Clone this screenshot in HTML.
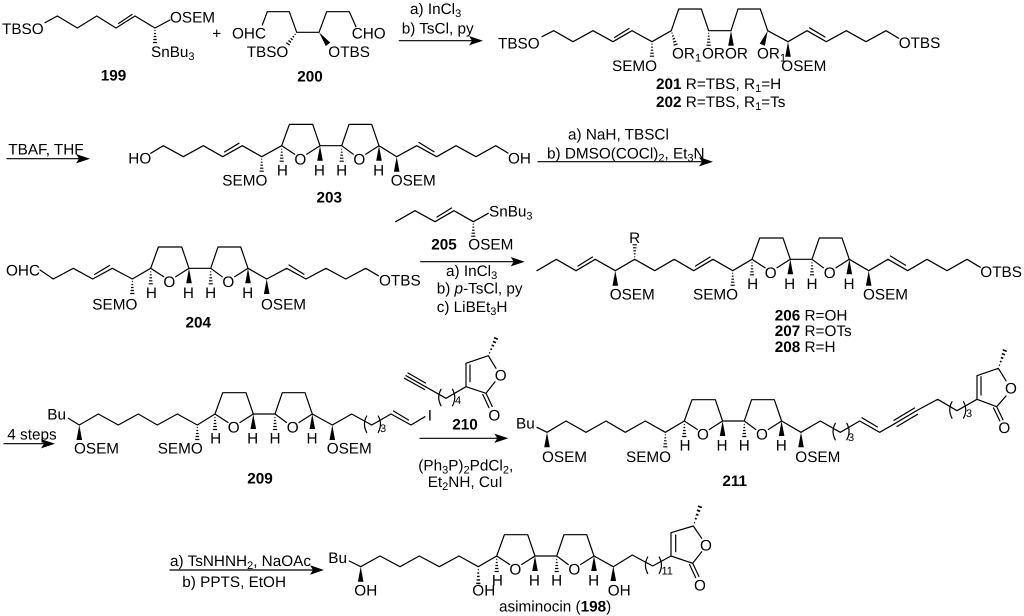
<!DOCTYPE html>
<html><head><meta charset="utf-8"><title>Asiminocin synthesis</title>
<style>
html,body{margin:0;padding:0;background:#fff;width:1024px;height:616px;overflow:hidden}
svg{display:block;filter:blur(.35px)}
text{font-family:"Liberation Sans",Arial,sans-serif;font-size:15.3px;fill:#000;text-rendering:geometricPrecision}
.b{font-weight:bold}
.s{font-size:11px}
.m{text-anchor:middle}
.l{fill:none;stroke:#000;stroke-width:1.2;stroke-linejoin:round;stroke-linecap:round}
</style></head><body>
<svg width="1024" height="616" viewBox="0 0 1024 616" xmlns="http://www.w3.org/2000/svg">
<defs>
<g id="h" class="l" style="stroke-linecap:butt">
<path d="M-.5 2.5H.5M-.9 5.5H.9M-1.3 8.5H1.3M-1.7 11.5H1.7M-2.1 14.5H2.1"/>
</g>
<polygon id="w" points="0,0 -2.8,15 2.8,15" fill="#000"/>
<path id="pl" class="l" d="M-5,-9Q-9.5,-1 -5,7.5"/>
<path id="pr" class="l" d="M6.5,-9Q11,-1 6.5,7.5"/>
<polygon id="ah" points="0,0 -14,-4.7 -11,0 -14,4.7" fill="#000"/>
<g id="core">
<path class="l" d="M13,8.5L0,0L7.7,-21.3H31L38.3,0L25,8.5M38.3,0H60L67.3,-21.3H90L97.3,0L84,8.5M60,0L71.5,8.5"/>
<use href="#h" x="0" y="1"/><use href="#h" x="60" y="1"/>
<use href="#w" x="38.3" y="0"/><use href="#w" x="97.3" y="0"/>
</g>
</defs>
<rect width="1024" height="616" fill="#fff"/>

<!-- 199 -->
<text x="2" y="34">TBSO</text>
<path class="l" d="M45,22.7L57.3,16L77.3,28L96.7,16L116,28L135,16L155,28L170,20M118.5,23.5L132,14.5"/>
<use href="#h" transform="translate(155,28)"/>
<text x="170" y="22.5">OSEM</text>
<text x="151" y="57">SnBu<tspan class="s" dy="3">3</tspan></text>
<text class="b m" x="113.5" y="80.5">199</text>
<text class="m" x="216.7" y="38.5">+</text>

<!-- 200 -->
<text x="232" y="38.7">OHC</text>
<path class="l" d="M262.3,25L267.3,11.7H289.3L296.7,32.3H319L326.7,11.7H349.3L356,26.7"/>
<use href="#h" transform="translate(296.7,32.3) rotate(37)"/>
<use href="#w" transform="translate(319,32.3) rotate(-37)"/>
<text x="246.7" y="57">TBSO</text>
<text x="328.3" y="57">OTBS</text>
<text x="351.7" y="38.7">CHO</text>
<text class="b m" x="310" y="81.5">200</text>

<!-- arrow 1 -->
<path class="l" d="M399.3,40.7H475"/><use href="#ah" x="483" y="40.7"/>
<text x="410" y="14">a) InCl<tspan class="s" dy="3">3</tspan></text>
<text x="401.7" y="33.5">b) TsCl, py</text>

<!-- 201 -->
<text x="498" y="48.5">TBSO</text>
<path class="l" d="M542,36.7L553.7,30.7L573,41.7L593,30.7L613,41.7L632,30.7L652,41.7L671.3,30.7L678.7,9H701.3L708.7,30.7H731L738,9H760.3L767.7,30.7L788,41.7L807,30.7L826.3,41.7L846.3,30.7L866,41.7L886,30.7L898.7,38.3M614.5,37.5L629,28.5M809.5,27.8L825,37"/>
<use href="#h" x="652" y="41.7"/>
<use href="#h" transform="translate(671.3,30.7) rotate(-17)"/>
<use href="#h" x="708.7" y="30.7"/>
<use href="#w" x="731" y="30.7"/>
<use href="#w" transform="translate(767.7,30.7) rotate(21)"/>
<use href="#w" x="788" y="41.7"/>
<text x="612" y="71">SEMO</text>
<text x="672" y="58.7">OR<tspan class="s" dy="3">1</tspan></text>
<text x="702" y="58.7">OROR</text>
<text x="757" y="58.7">OR<tspan class="s" dy="3">1</tspan></text>
<text x="781.3" y="71">OSEM</text>
<text x="898.7" y="48">OTBS</text>
<text x="656" y="89"><tspan class="b">201</tspan> R=TBS, R<tspan class="s" dy="3">1</tspan><tspan dy="-3">=H</tspan></text>
<text x="656" y="107"><tspan class="b">202</tspan> R=TBS, R<tspan class="s" dy="3">1</tspan><tspan dy="-3">=Ts</tspan></text>

<!-- TBAF -->
<text x="8.3" y="154.5">TBAF, THF</text>
<path class="l" d="M7,158.7H82"/><use href="#ah" x="90" y="158.7"/>

<!-- 203 -->
<text x="128.3" y="163.7">HO</text>
<path class="l" d="M150.7,153.3L163.3,145.7L183.3,156.7L203.3,145.7L222.7,156.7L242.3,145.7L261.7,156.7L281.7,145.7M224.5,152L239,143.2M379,145.7L396.7,156.7L416.7,145.7L436.7,156.7L456,145.7L476,156.7L495.7,145.7L508,153M419,142.5L434,151.7"/>
<use href="#h" x="261.7" y="156.7"/>
<use href="#w" x="396.7" y="156.7"/>
<use href="#core" x="281.7" y="145.7"/>
<g transform="translate(281.7,145.7)"><text class="m" x="18.7" y="18.7">O</text><text class="m" x="77.7" y="18.7">O</text><text class="m" x=".7" y="29.6">H</text><text class="m" x="37.7" y="29.6">H</text><text class="m" x="60" y="29.6">H</text><text class="m" x="97" y="29.6">H</text></g>
<text x="222.3" y="185.4">SEMO</text>
<text x="390.7" y="185.4">OSEM</text>
<text x="508" y="163.7">OH</text>
<text class="b m" x="329.3" y="202.7">203</text>

<!-- arrow 3 -->
<path class="l" d="M538,161.7H705"/><use href="#ah" x="713" y="161.7"/>
<text x="568" y="139.7">a) NaH, TBSCl</text>
<text x="547" y="158.7">b) DMSO(COCl)<tspan class="s" dy="3">2</tspan><tspan dy="-3">, Et</tspan><tspan class="s" dy="3">3</tspan><tspan dy="-3">N</tspan></text>

<!-- 204 -->
<text x="6" y="275.4">OHC</text>
<path class="l" d="M40,270L53.3,279L73.3,268.3L92.7,279L112.3,268.3L132.3,279L150.7,268.3M94.5,274.5L109.5,265.5M248,268.3L266.7,279L286.7,268.3L306,279L326,268.3L345.7,279L365.7,268.3L378.3,275.7M289,265L304,274.2"/>
<use href="#h" x="132.3" y="279"/>
<use href="#w" x="266.7" y="279"/>
<use href="#core" x="150.7" y="268.3"/>
<g transform="translate(150.7,268.3)"><text class="m" x="18.7" y="18.7">O</text><text class="m" x="77.7" y="18.7">O</text><text class="m" x=".7" y="29.6">H</text><text class="m" x="37.7" y="29.6">H</text><text class="m" x="60" y="29.6">H</text><text class="m" x="97" y="29.6">H</text></g>
<text x="92.3" y="309.4">SEMO</text>
<text x="261" y="309.4">OSEM</text>
<text x="379" y="285.4">OTBS</text>
<text class="b m" x="198.3" y="327.7">204</text>

<!-- 205 -->
<path class="l" d="M395.7,221.7L415,210.7L435,221.7L454,210.7L473.3,221.7L488.3,213.3M437,217L451.5,208"/>
<use href="#h" x="473.3" y="221.7"/>
<text x="489" y="216.4">SnBu<tspan class="s" dy="3">3</tspan></text>
<text x="468.3" y="249.7">OSEM</text>
<text class="b m" x="444" y="249.7">205</text>
<path class="l" d="M420.7,261.7H517"/><use href="#ah" x="524.7" y="261.7"/>
<text x="446" y="276">a) InCl<tspan class="s" dy="3">3</tspan></text>
<text x="436.7" y="293.7">b) <tspan font-style="italic">p</tspan>-TsCl, py</text>
<text x="436.7" y="312">c) LiBEt<tspan class="s" dy="3">3</tspan><tspan dy="-3">H</tspan></text>

<!-- 206 -->
<path class="l" d="M537,270.7L556.3,259.3L576,270.7L595.3,259.3L615.3,270.7L634.7,259.3L654.7,270.7L674.3,259.3L693.7,270.7L713,259.3L732.7,270.7L752,259.3M578,266L592.5,257M695.5,266L710,257M849.3,259.3L868.7,270.7L888,259.3L907.7,270.7L927,259.3L947,270.7L967,259.3L980.3,267.3M890.5,256L905.5,265.2"/>
<use href="#w" x="615.3" y="270.7"/>
<use href="#h" transform="translate(634.7,259.3) rotate(180)"/>
<use href="#h" x="732.7" y="270.7"/>
<use href="#w" x="868.7" y="270.7"/>
<use href="#core" x="752" y="259.3"/>
<g transform="translate(752,259.3)"><text class="m" x="18.7" y="18.7">O</text><text class="m" x="77.7" y="18.7">O</text><text class="m" x=".7" y="29.6">H</text><text class="m" x="37.7" y="29.6">H</text><text class="m" x="60" y="29.6">H</text><text class="m" x="97" y="29.6">H</text></g>
<text class="m" x="634.7" y="243">R</text>
<text x="609.7" y="299.7">OSEM</text>
<text x="693" y="299.7">SEMO</text>
<text x="863" y="299.7">OSEM</text>
<text x="980.3" y="277">OTBS</text>
<text x="774.7" y="320.4"><tspan class="b">206</tspan> R=OH</text>
<text x="774.7" y="336"><tspan class="b">207</tspan> R=OTs</text>
<text x="774.7" y="352"><tspan class="b">208</tspan> R=H</text>

<!-- 4 steps -->
<text x="7.3" y="439.4">4 steps</text>
<path class="l" d="M4,443.7H47"/><use href="#ah" x="55" y="443.7"/>

<!-- 209 -->
<text x="47.3" y="419.4">Bu</text>
<path class="l" d="M68.3,418.3L79.3,425L98.3,414L118.3,425L138.3,414L157.3,425L177.3,414L197.3,425L215,414M312.3,414L332.3,425L351.7,414L371.7,425L391,414L411,425L425,416.7M393.5,411L408.5,420"/>
<use href="#w" x="79.3" y="425"/>
<use href="#h" x="197.3" y="425"/>
<use href="#w" x="332.3" y="425"/>
<use href="#pl" x="371.7" y="425"/><use href="#pr" x="371.7" y="425"/>
<text class="s" x="380" y="432">3</text>
<use href="#core" x="215" y="414"/>
<g transform="translate(215,414)"><text class="m" x="18.7" y="18.7">O</text><text class="m" x="77.7" y="18.7">O</text><text class="m" x=".7" y="29.6">H</text><text class="m" x="37.7" y="29.6">H</text><text class="m" x="60" y="29.6">H</text><text class="m" x="97" y="29.6">H</text></g>
<text x="74" y="453.7">OSEM</text>
<text x="157.7" y="453.7">SEMO</text>
<text x="326.7" y="453.7">OSEM</text>
<text x="427.7" y="420.4">I</text>
<text class="b m" x="260" y="483.7">209</text>

<!-- 210 -->
<path class="l" d="M406,375.7L428.3,388.3L446,398.3L466,386.7V363.3L488.3,355.7L496,368.3M495,381.7L486,393.3L466,386.7M408,373L425.5,383M404.5,378.3L424.5,389.5M470,381.7V365M486,393.3L492.2,406.5M482.8,394.5L489,407.7"/>
<use href="#h" transform="translate(488.3,355.7) rotate(-156) scale(1,1.3)"/>
<use href="#pl" x="446" y="398.3"/><use href="#pr" x="446" y="398.3"/>
<text class="s" x="455" y="404">4</text>
<text class="m" x="500.7" y="380.4">O</text>
<text class="m" x="494.3" y="420.4">O</text>
<text class="b m" x="465" y="429.7">210</text>
<path class="l" d="M420,438.3H500"/><use href="#ah" x="508.3" y="438.3"/>
<text x="418.3" y="470.4">(Ph<tspan class="s" dy="3">3</tspan><tspan dy="-3">P)</tspan><tspan class="s" dy="3">2</tspan><tspan dy="-3">PdCl</tspan><tspan class="s" dy="3">2</tspan><tspan dy="-3">,</tspan></text>
<text x="427.7" y="487">Et<tspan class="s" dy="3">2</tspan><tspan dy="-3">NH, CuI</tspan></text>

<!-- 211 -->
<text x="516" y="428.7">Bu</text>
<path class="l" d="M537,427.3L547,432.3L566,421L586,432.3L606,421L625.3,432.3L645.3,421L665.3,432.3L684.3,421M781.6,421L801,432.3L820.3,421L840.3,432.3L859.7,421L879.7,432.3L895.3,423.3L917.7,410L937.7,399.3L957,410.7L977,399.3V375.7L998.3,368.3L1006,380.7M1006,396L996.7,406.7L977,399.3M862,417.8L877.5,427M894,420.3L914.5,408M897,426.5L917.5,414.3M981,395V376.7M996.7,406.7L1003,419.7M993.5,407.9L999.8,420.9"/>
<use href="#w" x="547" y="432.3"/>
<use href="#h" x="665.3" y="432.3"/>
<use href="#w" x="801" y="432.3"/>
<use href="#h" transform="translate(998.3,368.3) rotate(-160) scale(1,1.3)"/>
<use href="#pl" x="840.3" y="432.3"/><use href="#pr" x="840.3" y="432.3"/>
<use href="#pl" x="957" y="410.7"/><use href="#pr" x="957" y="410.7"/>
<text class="s" x="848" y="441">3</text>
<text class="s" x="966" y="417">3</text>
<use href="#core" x="684.3" y="421"/>
<g transform="translate(684.3,421)"><text class="m" x="18.7" y="18.7">O</text><text class="m" x="77.7" y="18.7">O</text><text class="m" x=".7" y="29.6">H</text><text class="m" x="37.7" y="29.6">H</text><text class="m" x="60" y="29.6">H</text><text class="m" x="97" y="29.6">H</text></g>
<text x="542" y="462">OSEM</text>
<text x="626" y="462">SEMO</text>
<text x="795.3" y="462">OSEM</text>
<text class="m" x="1011" y="393.7">O</text>
<text class="m" x="1004.3" y="433">O</text>
<text class="b m" x="734.7" y="486">211</text>

<!-- arrow last -->
<path class="l" d="M170,570H316"/><use href="#ah" x="324" y="570"/>
<text x="170" y="566">a) TsNHNH<tspan class="s" dy="3">2</tspan><tspan dy="-3">, NaOAc</tspan></text>
<text x="182.3" y="587">b) PPTS, EtOH</text>

<!-- 198 -->
<text x="328.3" y="563">Bu</text>
<path class="l" d="M349.3,561L360.7,566.7L380,556L400,566.7L419.3,556L439.3,566.7L459,556L478.3,566.7L496.7,556M594,556L613.3,566.7L632.3,555L652.7,566L671,556V532.7L693.3,526L701.7,538.3M701.7,551.7L692.7,563.3L671,556M675.7,551.7V535M692.7,563.3L698.9,576.4M689.5,564.5L695.7,577.6"/>
<use href="#w" x="360.7" y="566.7"/>
<use href="#h" transform="translate(478.3,566.7) scale(1,1.15)"/>
<use href="#w" x="613.3" y="566"/>
<use href="#h" transform="translate(693.3,526) rotate(-161) scale(1,1.4)"/>
<use href="#pl" x="652.7" y="566"/><use href="#pr" x="652.7" y="566"/>
<text class="s" x="661.5" y="574.5">11</text>
<use href="#core" x="496.7" y="556"/>
<g transform="translate(496.7,556)"><text class="m" x="18.7" y="18.7">O</text><text class="m" x="77.7" y="18.7">O</text><text class="m" x=".7" y="29.6">H</text><text class="m" x="37.7" y="29.6">H</text><text class="m" x="60" y="29.6">H</text><text class="m" x="97" y="29.6">H</text></g>
<text x="354.3" y="595.4">OH</text>
<text x="472.3" y="595.4">OH</text>
<text x="607.7" y="595.4">OH</text>
<text class="m" x="706" y="550.4">O</text>
<text class="m" x="700" y="590.4">O</text>
<text x="499" y="611.4">asiminocin (<tspan class="b">198</tspan>)</text>
</svg>
</body></html>
